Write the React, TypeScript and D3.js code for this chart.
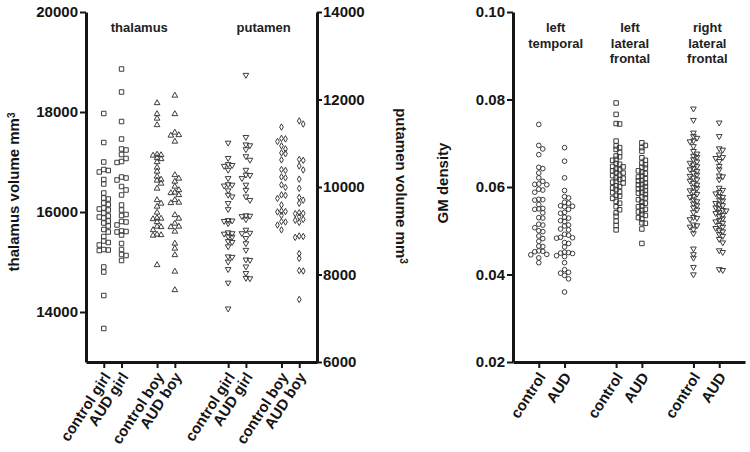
import { useEffect, useRef } from 'react';
import * as d3 from 'd3';

// left panel: thalamus (left axis) and putamen (right axis), mm^3
const groupLabels = ['control girl', 'AUD girl', 'control boy', 'AUD boy'];
const volumeTicksThalamus = [14000, 16000, 18000, 20000];
const volumeTicksPutamen = [6000, 8000, 10000, 12000, 14000];

const thalamusControlGirl = [17970, 17390, 17000, 16850, 16830, 16800, 16650, 16560, 16380, 16280, 16260, 16180, 16150, 16080, 16060, 16040, 15980, 15920, 15900, 15880, 15820, 15780, 15720, 15650, 15600, 15510, 15420, 15390, 15340, 15250, 15240, 15230, 14900, 14800, 14330, 13670];
const thalamusAudGirl = [18860, 18400, 17810, 17460, 17260, 17240, 17150, 17070, 17010, 16990, 16700, 16680, 16640, 16510, 16440, 16340, 16140, 16040, 15950, 15930, 15810, 15800, 15740, 15620, 15610, 15600, 15540, 15370, 15250, 15150, 15130, 15030];
const thalamusControlBoy = [18180, 17960, 17870, 17740, 17150, 17140, 17130, 17080, 17060, 17000, 16890, 16810, 16710, 16650, 16630, 16570, 16470, 16240, 16170, 16110, 15990, 15880, 15870, 15860, 15800, 15710, 15700, 15640, 15550, 15540, 15530, 14940];
const thalamusAudBoy = [18330, 17960, 17590, 17540, 17530, 17410, 16740, 16670, 16610, 16510, 16440, 16390, 16380, 16340, 16240, 16190, 16180, 15940, 15870, 15770, 15710, 15700, 15610, 15370, 15270, 15140, 14810, 14440];

const putamenControlGirl = [11010, 10660, 10520, 10500, 10480, 10390, 10200, 10060, 10050, 10030, 9920, 9820, 9780, 9630, 9490, 9240, 9230, 9220, 9170, 8960, 8940, 8930, 8870, 8860, 8760, 8740, 8640, 8410, 8400, 8290, 8120, 7810, 7220];
const putamenAudGirl = [12560, 11140, 10970, 10950, 10860, 10700, 10620, 10390, 10280, 10270, 10200, 10050, 9930, 9780, 9700, 9350, 9340, 9330, 9260, 9020, 8950, 8940, 8830, 8710, 8560, 8340, 8330, 8180, 8030, 7920, 7910];
const putamenControlBoy = [11370, 11110, 11100, 11040, 10940, 10870, 10780, 10760, 10620, 10400, 10380, 10230, 10210, 10050, 9990, 9820, 9810, 9740, 9590, 9450, 9440, 9430, 9350, 9210, 9200, 9130, 9020];
const putamenAudBoy = [11510, 11440, 10630, 10610, 10480, 10390, 10180, 9970, 9760, 9700, 9630, 9410, 9400, 9390, 9320, 9260, 9240, 9190, 8880, 8870, 8850, 8480, 8370, 8090, 8080, 7430];

// right panel: grey matter density
const regionTitles = [['left', 'temporal'], ['left', 'lateral', 'frontal'], ['right', 'lateral', 'frontal']];
const gmLabels = ['control', 'AUD'];
const gmTicks = [0.02, 0.04, 0.06, 0.08, 0.1];

const temporalControl = [0.0743, 0.0695, 0.0687, 0.0674, 0.0645, 0.0642, 0.0632, 0.0621, 0.0613, 0.0607, 0.0606, 0.0605, 0.0595, 0.0593, 0.0588, 0.0572, 0.0571, 0.057, 0.056, 0.0551, 0.055, 0.0549, 0.0541, 0.053, 0.0529, 0.0515, 0.0513, 0.0507, 0.05, 0.0498, 0.0488, 0.0482, 0.0476, 0.0465, 0.0464, 0.0454, 0.0453, 0.0452, 0.0446, 0.0445, 0.0438, 0.0427];
const temporalAud = [0.069, 0.0659, 0.0621, 0.0592, 0.0578, 0.0575, 0.0565, 0.0563, 0.0557, 0.0556, 0.0555, 0.0549, 0.0542, 0.054, 0.0531, 0.0529, 0.0523, 0.0521, 0.0513, 0.0511, 0.0504, 0.0502, 0.0492, 0.049, 0.0485, 0.0484, 0.0483, 0.0473, 0.0471, 0.0463, 0.0451, 0.045, 0.0449, 0.0448, 0.0443, 0.0441, 0.0427, 0.0411, 0.0405, 0.0403, 0.0398, 0.039, 0.036];
const leftFrontalControl = [0.0792, 0.0766, 0.0745, 0.0744, 0.0705, 0.0694, 0.069, 0.0686, 0.0679, 0.0671, 0.0669, 0.0663, 0.0661, 0.0654, 0.0652, 0.0647, 0.0646, 0.0641, 0.064, 0.0637, 0.0633, 0.0632, 0.0627, 0.0626, 0.0621, 0.062, 0.0617, 0.0613, 0.0611, 0.0609, 0.0603, 0.0601, 0.0598, 0.0594, 0.0589, 0.0587, 0.0581, 0.0579, 0.0574, 0.0567, 0.0563, 0.0555, 0.0548, 0.0541, 0.0533, 0.0522, 0.0512, 0.0502];
const leftFrontalAud = [0.0701, 0.0695, 0.069, 0.0682, 0.0667, 0.0661, 0.0655, 0.0651, 0.0645, 0.0643, 0.0637, 0.0634, 0.0631, 0.0625, 0.0623, 0.0619, 0.0615, 0.0614, 0.0609, 0.0606, 0.0605, 0.0601, 0.0597, 0.0596, 0.0592, 0.0588, 0.0586, 0.0583, 0.0577, 0.0575, 0.0571, 0.0565, 0.0563, 0.0557, 0.0555, 0.0549, 0.0546, 0.0543, 0.0538, 0.0535, 0.053, 0.0527, 0.0518, 0.0517, 0.0504, 0.0471];
const rightFrontalControl = [0.0779, 0.0753, 0.0724, 0.0716, 0.0712, 0.0706, 0.0704, 0.0693, 0.0682, 0.0676, 0.0671, 0.0668, 0.0663, 0.0658, 0.0655, 0.0651, 0.0647, 0.0643, 0.064, 0.0636, 0.0632, 0.0628, 0.0625, 0.0621, 0.0617, 0.0614, 0.0609, 0.0605, 0.06, 0.0597, 0.0592, 0.0589, 0.0584, 0.0579, 0.0577, 0.0571, 0.0567, 0.0562, 0.0558, 0.0553, 0.0548, 0.0542, 0.0531, 0.0529, 0.0526, 0.0514, 0.0512, 0.0509, 0.0503, 0.0494, 0.0459, 0.0446, 0.0438, 0.0417, 0.04];
const rightFrontalAud = [0.0747, 0.0716, 0.0688, 0.0685, 0.0674, 0.0668, 0.0666, 0.0659, 0.0648, 0.064, 0.0626, 0.0624, 0.0617, 0.0598, 0.0593, 0.0588, 0.0585, 0.0579, 0.0577, 0.0571, 0.0569, 0.0563, 0.056, 0.0558, 0.0553, 0.0551, 0.0547, 0.0546, 0.0543, 0.054, 0.0536, 0.0533, 0.0528, 0.0524, 0.0521, 0.0518, 0.0513, 0.0509, 0.0506, 0.0501, 0.0498, 0.0492, 0.0488, 0.0481, 0.0473, 0.0455, 0.0451, 0.0412, 0.041];

const FONT = "'Liberation Sans', Arial, Helvetica, sans-serif";
const INK = '#151515';
const MARK = '#3c3c3c';

// GraphPad-style horizontal spreading of overlapping points
function spread(values: number[], y: (v: number) => number, d: number, maxOff: number) {
  const placed: { off: number; py: number }[] = [];
  [...values].sort((a, b) => b - a).forEach((v) => {
    const py = y(v);
    let best = 0;
    let bestGap = -1;
    for (let k = 0; k <= 2 * Math.ceil(maxOff / d); k++) {
      const off = k === 0 ? 0 : (k % 2 ? 1 : -1) * Math.ceil(k / 2) * d;
      if (Math.abs(off) > maxOff) continue;
      let gap = Infinity;
      placed.forEach((p) => {
        gap = Math.min(gap, Math.hypot(p.off - off, p.py - py));
      });
      if (gap >= d) {
        best = off;
        break;
      }
      if (gap > bestGap) {
        bestGap = gap;
        best = off;
      }
    }
    placed.push({ off: best, py });
  });
  return placed;
}

export default function App() {
  const svgRef = useRef<SVGSVGElement>(null);

  useEffect(() => {
    if (!svgRef.current) return;
    const width = 750;
    const height = 452;
    const top = 12;
    const bottom = 362;

    const svg = d3.select(svgRef.current).attr('width', width).attr('height', height);
    svg.selectAll('*').remove();
    svg.append('rect').attr('width', width).attr('height', height).attr('fill', '#fff');

    // ---------- left panel ----------
    const leftSlots = [
      'thalamus|control girl', 'thalamus|AUD girl', 'thalamus|gap', 'thalamus|control boy', 'thalamus|AUD boy',
      'mid|a', 'mid|b',
      'putamen|control girl', 'putamen|AUD girl', 'putamen|gap', 'putamen|control boy', 'putamen|AUD boy',
    ];
    const xLeft = d3.scalePoint<string>().domain(leftSlots).range([86, 317]).padding(1);
    const yThal = d3.scaleLinear().domain([13000, 20000]).range([bottom, top]);
    const yPut = d3.scaleLinear().domain([6000, 14000]).range([bottom, top]);

    // ---------- right panel ----------
    const rightSlots = ['r0|control', 'r0|AUD', 'r0|gap', 'r1|control', 'r1|AUD', 'r1|gap', 'r2|control', 'r2|AUD'];
    const xRight = d3.scalePoint<string>().domain(rightSlots).range([513, 745]).padding(1);
    const yGM = d3.scaleLinear().domain([0.02, 0.1]).range([bottom, top]);

    const styleAxis = (g: d3.Selection<SVGGElement, unknown, null, undefined>) => {
      g.select('.domain').attr('stroke', INK).attr('stroke-width', 3);
      g.selectAll('.tick line').attr('stroke', INK).attr('stroke-width', 2);
      g.selectAll('.tick text')
        .attr('fill', INK)
        .style('font-family', FONT)
        .style('font-size', '15px')
        .style('font-weight', '700');
    };

    svg.append('g').attr('transform', `translate(86,0)`)
      .call(d3.axisLeft(yThal).tickValues(volumeTicksThalamus).tickSize(6).tickSizeOuter(0).tickPadding(2).tickFormat(d3.format('d')))
      .call(styleAxis);
    svg.append('g').attr('transform', `translate(317,0)`)
      .call(d3.axisRight(yPut).tickValues(volumeTicksPutamen).tickSize(5).tickSizeOuter(0).tickPadding(1).tickFormat(d3.format('d')))
      .call(styleAxis);
    svg.append('g').attr('transform', `translate(0,${bottom})`)
      .call(d3.axisBottom(xLeft).tickValues(leftSlots.filter((s) => !s.includes('gap') && !s.startsWith('mid'))).tickSize(6).tickSizeOuter(0).tickFormat(() => ''))
      .call(styleAxis);

    svg.append('g').attr('transform', `translate(513,0)`)
      .call(d3.axisLeft(yGM).tickValues(gmTicks).tickSize(6).tickSizeOuter(0).tickPadding(2).tickFormat(d3.format('.2f')))
      .call(styleAxis);
    svg.append('g').attr('transform', `translate(0,${bottom})`)
      .call(d3.axisBottom(xRight).tickValues(rightSlots.filter((s) => !s.includes('gap'))).tickSize(6).tickSizeOuter(0).tickFormat(() => ''))
      .call(styleAxis);

    // category labels, slanted
    const catLabel = (x: number, text: string) => {
      svg.append('text')
        .attr('transform', `translate(${x + 3},${bottom + 12}) rotate(-57)`)
        .attr('text-anchor', 'end')
        .attr('dy', '0.35em')
        .attr('fill', INK)
        .style('font-family', FONT)
        .style('font-size', '15px')
        .style('font-weight', '700')
        .text(text);
    };
    ['thalamus', 'putamen'].forEach((g) => groupLabels.forEach((l) => catLabel(xLeft(`${g}|${l}`) ?? 0, l)));
    ['r0', 'r1', 'r2'].forEach((g) => gmLabels.forEach((l) => catLabel(xRight(`${g}|${l}`) ?? 0, l)));

    // axis titles
    const axisTitle = (x: number, y: number, rot: number, main: string) => {
      const t = svg.append('text')
        .attr('transform', `translate(${x},${y}) rotate(${rot})`)
        .attr('text-anchor', 'middle')
        .attr('dy', '0.35em')
        .attr('fill', INK)
        .style('font-family', FONT)
        .style('font-size', '15px')
        .style('font-weight', '700');
      t.append('tspan').text(main);
      t.append('tspan').attr('dy', '-0.45em').style('font-size', '10px').text('3');
    };
    axisTitle(14, 192, -90, 'thalamus volume  mm');
    axisTitle(401, 186, 90, 'putamen volume mm');
    svg.append('text')
      .attr('transform', `translate(443,183) rotate(-90)`)
      .attr('text-anchor', 'middle')
      .attr('dy', '0.35em')
      .attr('fill', INK)
      .style('font-family', FONT)
      .style('font-size', '15px')
      .style('font-weight', '700')
      .text('GM density');

    // group titles
    const groupTitle = (x: number, lines: string[]) => {
      lines.forEach((line, i) => {
        svg.append('text')
          .attr('x', x)
          .attr('y', 32 + i * 15.5)
          .attr('text-anchor', 'middle')
          .attr('fill', '#222')
          .style('font-family', FONT)
          .style('font-size', '13px')
          .style('font-weight', '700')
          .text(line);
      });
    };
    const mid = (a: number | undefined, b: number | undefined) => ((a ?? 0) + (b ?? 0)) / 2;
    groupTitle(mid(xLeft('thalamus|control girl'), xLeft('thalamus|AUD boy')), ['thalamus']);
    groupTitle(mid(xLeft('putamen|control girl'), xLeft('putamen|AUD boy')), ['putamen']);
    ['r0', 'r1', 'r2'].forEach((g, i) =>
      groupTitle(mid(xRight(`${g}|control`), xRight(`${g}|AUD`)) + (i === 0 ? 4 : 1), regionTitles[i]),
    );

    // points
    const square = d3.symbol().type(d3.symbolSquare).size(20)() ?? '';
    const triangle = d3.symbol().type(d3.symbolTriangle).size(14)() ?? '';
    const diamond = d3.symbol().type(d3.symbolDiamond).size(12)() ?? '';
    const circle = d3.symbol().type(d3.symbolCircle).size(17)() ?? '';
    const columns: { x: number; values: number[]; y: (v: number) => number; path: string; rot: number; d: number; max: number }[] = [
      { x: xLeft('thalamus|control girl') ?? 0, values: thalamusControlGirl, y: yThal, path: square, rot: 0, d: 4.5, max: 7 },
      { x: xLeft('thalamus|AUD girl') ?? 0, values: thalamusAudGirl, y: yThal, path: square, rot: 0, d: 4.5, max: 7 },
      { x: xLeft('thalamus|control boy') ?? 0, values: thalamusControlBoy, y: yThal, path: triangle, rot: 0, d: 4, max: 7 },
      { x: xLeft('thalamus|AUD boy') ?? 0, values: thalamusAudBoy, y: yThal, path: triangle, rot: 0, d: 4, max: 7 },
      { x: xLeft('putamen|control girl') ?? 0, values: putamenControlGirl, y: yPut, path: triangle, rot: 180, d: 4, max: 7 },
      { x: xLeft('putamen|AUD girl') ?? 0, values: putamenAudGirl, y: yPut, path: triangle, rot: 180, d: 4, max: 7 },
      { x: xLeft('putamen|control boy') ?? 0, values: putamenControlBoy, y: yPut, path: diamond, rot: 0, d: 4, max: 7 },
      { x: xLeft('putamen|AUD boy') ?? 0, values: putamenAudBoy, y: yPut, path: diamond, rot: 0, d: 4, max: 7 },
      { x: xRight('r0|control') ?? 0, values: temporalControl, y: yGM, path: circle, rot: 0, d: 4, max: 8 },
      { x: xRight('r0|AUD') ?? 0, values: temporalAud, y: yGM, path: circle, rot: 0, d: 4, max: 8 },
      { x: xRight('r1|control') ?? 0, values: leftFrontalControl, y: yGM, path: square, rot: 0, d: 3.5, max: 7 },
      { x: xRight('r1|AUD') ?? 0, values: leftFrontalAud, y: yGM, path: square, rot: 0, d: 3.5, max: 7 },
      { x: xRight('r2|control') ?? 0, values: rightFrontalControl, y: yGM, path: triangle, rot: 180, d: 3.5, max: 7 },
      { x: xRight('r2|AUD') ?? 0, values: rightFrontalAud, y: yGM, path: triangle, rot: 180, d: 3.5, max: 7 },
    ];

    columns.forEach((col) => {
      const pts = spread(col.values, col.y, col.d, col.max);
      svg.append('g')
        .selectAll('path')
        .data(pts)
        .enter()
        .append('path')
        .attr('d', col.path)
        .attr('transform', (p) => `translate(${col.x + p.off},${p.py}) rotate(${col.rot})`)
        .attr('fill', 'none')
        .attr('stroke', MARK)
        .attr('stroke-width', 1);
    });
  }, []);

  return <svg ref={svgRef} style={{ position: 'absolute', left: 0, top: 0, display: 'block' }} />;
}
